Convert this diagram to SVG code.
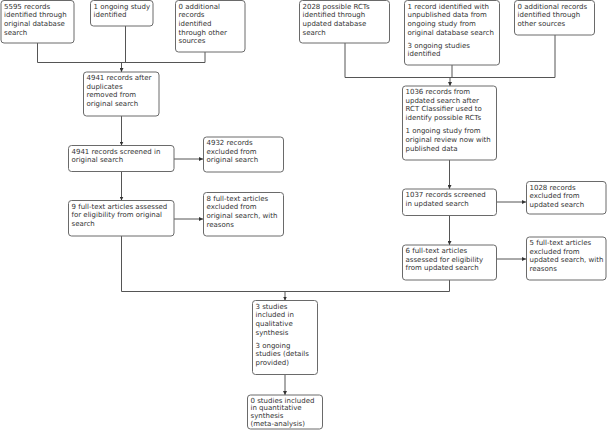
<svg xmlns="http://www.w3.org/2000/svg" width="608" height="439" viewBox="0 0 608 439">
<style>
.box{fill:#fff;stroke:#6a6a6a;stroke-width:1}
.t{font-family:"DejaVu Sans",Verdana,sans-serif;font-size:7px;fill:#333}
.c{fill:none;stroke:#555;stroke-width:1}
.a{fill:none;stroke:#555;stroke-width:1;marker-end:url(#ah)}
</style>
<defs>
<marker id="ah" viewBox="0 0 6 6" refX="6" refY="3" markerWidth="4" markerHeight="4" orient="auto" markerUnits="userSpaceOnUse">
<path d="M0,0 L6,3 L0,6 z" fill="#333"/>
</marker>
</defs>
<rect width="608" height="439" fill="#fff"/>
<g id="connectors">
<path class="c" d="M37.5,43 V62.5 M125.5,26 V62.5 M205,52 V62.5 M37.5,62.5 H205"/>
<path class="a" d="M121.5,62.5 V72"/>
<path class="a" d="M121.5,116 V145.5"/>
<path class="a" d="M174,159 H203"/>
<path class="a" d="M121.5,171.5 V200.5"/>
<path class="a" d="M174,219 H203"/>
<path class="c" d="M121.5,236 V291.5 H449.5 V280"/>
<path class="a" d="M285,291.5 V300.5"/>
<path class="a" d="M285,374.5 V395"/>
<path class="c" d="M345,43 V77.5 M452,65 V77.5 M555,35 V77.5 M345,77.5 H555"/>
<path class="a" d="M450,77.5 V86"/>
<path class="a" d="M449.5,160 V189"/>
<path class="a" d="M496.5,202 H526"/>
<path class="a" d="M449.5,215.5 V245"/>
<path class="a" d="M496.5,259 H526"/>
</g>
<g id="nA"><rect class="box" x="1" y="0.5" width="73" height="42.5" rx="3"/>
<text class="t" x="4" y="8.5"><tspan x="4">5595 records</tspan><tspan x="4" dy="8.7">identified through</tspan><tspan x="4" dy="8.7">original database</tspan><tspan x="4" dy="8.7">search</tspan></text></g>
<g id="nB"><rect class="box" x="90.5" y="0.5" width="62.5" height="25.5" rx="3"/>
<text class="t" x="93.5" y="8.5"><tspan x="93.5">1 ongoing study</tspan><tspan x="93.5" dy="8.7">identified</tspan></text></g>
<g id="nC"><rect class="box" x="175.5" y="0.5" width="69.5" height="51.5" rx="3"/>
<text class="t" x="178.5" y="8.5"><tspan x="178.5">0 additional</tspan><tspan x="178.5" dy="8.7">records</tspan><tspan x="178.5" dy="8.7">identified</tspan><tspan x="178.5" dy="8.7">through other</tspan><tspan x="178.5" dy="8.7">sources</tspan></text></g>
<g id="nD"><rect class="box" x="83.5" y="72" width="75.5" height="44" rx="3"/>
<text class="t" x="86.5" y="80"><tspan x="86.5">4941 records after</tspan><tspan x="86.5" dy="8.7">duplicates</tspan><tspan x="86.5" dy="8.7">removed from</tspan><tspan x="86.5" dy="8.7">original search</tspan></text></g>
<g id="nE"><rect class="box" x="68.5" y="145.5" width="105.5" height="26" rx="3"/>
<text class="t" x="71.5" y="153.5"><tspan x="71.5">4941 records screened in</tspan><tspan x="71.5" dy="8.7">original search</tspan></text></g>
<g id="nF"><rect class="box" x="203.5" y="137" width="80" height="35" rx="3"/>
<text class="t" x="206.5" y="145"><tspan x="206.5">4932 records</tspan><tspan x="206.5" dy="8.7">excluded from</tspan><tspan x="206.5" dy="8.7">original search</tspan></text></g>
<g id="nG"><rect class="box" x="68.5" y="200.5" width="105.5" height="35.5" rx="3"/>
<text class="t" x="71.5" y="208.5"><tspan x="71.5">9 full-text articles assessed</tspan><tspan x="71.5" dy="8.7">for eligibility from original</tspan><tspan x="71.5" dy="8.7">search</tspan></text></g>
<g id="nH"><rect class="box" x="203.5" y="192.5" width="80" height="43.5" rx="3"/>
<text class="t" x="206.5" y="200.5"><tspan x="206.5">8 full-text articles</tspan><tspan x="206.5" dy="8.7">excluded from</tspan><tspan x="206.5" dy="8.7">original search, with</tspan><tspan x="206.5" dy="8.7">reasons</tspan></text></g>
<g id="nI"><rect class="box" x="299.5" y="0.5" width="90" height="42.5" rx="3"/>
<text class="t" x="302.5" y="8.5"><tspan x="302.5">2028 possible RCTs</tspan><tspan x="302.5" dy="8.7">identified through</tspan><tspan x="302.5" dy="8.7">updated database</tspan><tspan x="302.5" dy="8.7">search</tspan></text></g>
<g id="nJ"><rect class="box" x="404.5" y="0.5" width="95" height="64.5" rx="3"/>
<text class="t" x="407.5" y="8.5"><tspan x="407.5">1 record identified with</tspan><tspan x="407.5" dy="8.7">unpublished data from</tspan><tspan x="407.5" dy="8.7">ongoing study from</tspan><tspan x="407.5" dy="8.7">original database search</tspan><tspan x="407.5" dy="13">3 ongoing studies</tspan><tspan x="407.5" dy="8.7">identified</tspan></text></g>
<g id="nK"><rect class="box" x="514.5" y="0.5" width="80" height="34.5" rx="3"/>
<text class="t" x="517.5" y="8.5"><tspan x="517.5">0 additional records</tspan><tspan x="517.5" dy="8.7">identified through</tspan><tspan x="517.5" dy="8.7">other sources</tspan></text></g>
<g id="nL"><rect class="box" x="402.5" y="86" width="94" height="74" rx="3"/>
<text class="t" x="405.5" y="94"><tspan x="405.5">1036 records from</tspan><tspan x="405.5" dy="8.7">updated search after</tspan><tspan x="405.5" dy="8.7">RCT Classifier used to</tspan><tspan x="405.5" dy="8.7">identify possible RCTs</tspan><tspan x="405.5" dy="13">1 ongoing study from</tspan><tspan x="405.5" dy="8.7">original review now with</tspan><tspan x="405.5" dy="8.7">published data</tspan></text></g>
<g id="nM"><rect class="box" x="402.5" y="189" width="94" height="26.5" rx="3"/>
<text class="t" x="405.5" y="197"><tspan x="405.5">1037 records screened</tspan><tspan x="405.5" dy="8.7">in updated search</tspan></text></g>
<g id="nN"><rect class="box" x="526.5" y="181.5" width="79.5" height="32.5" rx="3"/>
<text class="t" x="529.5" y="189.5"><tspan x="529.5">1028 records</tspan><tspan x="529.5" dy="8.7">excluded from</tspan><tspan x="529.5" dy="8.7">updated search</tspan></text></g>
<g id="nO"><rect class="box" x="402.5" y="245" width="94" height="35" rx="3"/>
<text class="t" x="405.5" y="253"><tspan x="405.5">6 full-text articles</tspan><tspan x="405.5" dy="8.7">assessed for eligibility</tspan><tspan x="405.5" dy="8.7">from updated search</tspan></text></g>
<g id="nP"><rect class="box" x="526.5" y="237" width="79.5" height="43" rx="3"/>
<text class="t" x="529.5" y="245"><tspan x="529.5">5 full-text articles</tspan><tspan x="529.5" dy="8.7">excluded from</tspan><tspan x="529.5" dy="8.7">updated search, with</tspan><tspan x="529.5" dy="8.7">reasons</tspan></text></g>
<g id="nQ"><rect class="box" x="252.5" y="300.5" width="65" height="74" rx="3"/>
<text class="t" x="255.5" y="308.5"><tspan x="255.5">3 studies</tspan><tspan x="255.5" dy="8.7">included in</tspan><tspan x="255.5" dy="8.7">qualitative</tspan><tspan x="255.5" dy="8.7">synthesis</tspan><tspan x="255.5" dy="13">3 ongoing</tspan><tspan x="255.5" dy="8.7">studies (details</tspan><tspan x="255.5" dy="8.7">provided)</tspan></text></g>
<g id="nR"><rect class="box" x="247.5" y="395" width="75" height="34" rx="3"/>
<text class="t" x="250.5" y="402.5"><tspan x="250.5">0 studies included</tspan><tspan x="250.5" dy="7.9">in quantitative</tspan><tspan x="250.5" dy="7.9">synthesis</tspan><tspan x="250.5" dy="7.9">(meta-analysis)</tspan></text></g>
</svg>
